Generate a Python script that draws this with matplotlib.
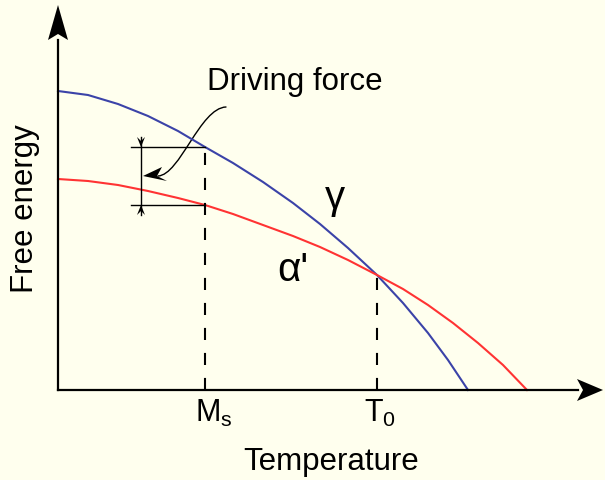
import matplotlib.pyplot as plt
from matplotlib.patches import FancyArrowPatch, Polygon
from matplotlib.path import Path

plt.rcParams['font.family'] = ['Liberation Sans', 'DejaVu Sans']
plt.rcParams['mathtext.fontset'] = 'custom'
plt.rcParams['mathtext.rm'] = 'Liberation Sans'
plt.rcParams['mathtext.it'] = 'Liberation Sans'

# gamma (austenite) free energy curve
gamma_t = [0, 30, 60, 90, 120, 147, 175, 205, 235, 262, 290, 319, 345, 370, 390, 410]
gamma_g = [299, 295, 286, 274, 259, 243, 227, 208, 187, 166, 142, 115, 87, 57, 30, 0]

# alpha' (martensite) free energy curve
alpha_t = [0, 30, 60, 90, 120, 147, 175, 205, 235, 262, 290, 319, 345, 370, 395, 420, 445, 469]
alpha_g = [211, 209, 205, 199, 192, 185, 176, 165, 154, 143, 130, 115, 101, 85, 67, 47, 25, 0]

Ms = 147
T0 = 319
G_ms_gamma = 243
G_ms_alpha = 185
G_t0 = 115

bg = '#FFFFEE'
fig = plt.figure(figsize=(6.05, 4.8), dpi=100, facecolor=bg)
ax = fig.add_axes([0, 0, 1, 1])
ax.set_facecolor(bg)
ax.set_xlim(-58, 547)
ax.set_ylim(-90, 390)
ax.axis('off')

ax.plot(gamma_t, gamma_g, color='#3B43A8', lw=1.5, solid_joinstyle='round')
ax.plot(alpha_t, alpha_g, color='#FF3333', lw=1.5, solid_joinstyle='round')

# axes with arrows
ax.plot([0, 0], [0, 350], color='black', lw=1.6)
ax.plot([0, 520], [0, 0], color='black', lw=1.6)
ax.add_patch(Polygon([[0, 385], [-10, 350], [0, 356], [10, 350]], closed=True,
                     color='black', lw=0))
ax.add_patch(Polygon([[545, 0], [519, 11], [525, 0], [519, -11]], closed=True,
                     color='black', lw=0))

# dashed guides
ax.plot([Ms, Ms], [0, G_ms_gamma], color='black', lw=1.5, dashes=(5.8, 6.2))
ax.plot([T0, T0], [0, G_t0], color='black', lw=1.5, dashes=(5.8, 6.2))

# driving force dimension
ax.plot([73, Ms], [G_ms_gamma, G_ms_gamma], color='black', lw=1)
ax.plot([73, Ms], [G_ms_alpha, G_ms_alpha], color='black', lw=1)
ax.plot([83, 83], [G_ms_alpha - 10, G_ms_gamma + 10], color='black', lw=1)
for tip, sgn in [(G_ms_gamma, 1), (G_ms_alpha, -1)]:
    ax.add_patch(Polygon([[83, tip], [79, tip + 10 * sgn], [83, tip + 6 * sgn], [87, tip + 10 * sgn]],
                         closed=True, color='black', lw=0))

# curved leader from the label
verts = [(168, 283), (142, 282), (122, 215), (100, 214)]
codes = [Path.MOVETO, Path.CURVE4, Path.CURVE4, Path.CURVE4]
ax.add_patch(FancyArrowPatch(path=Path(verts, codes), arrowstyle='-',
                             color='black', lw=1))
ax.add_patch(Polygon([[85, 214], [104, 223], [99, 214], [109, 209]], closed=True,
                     color='black', lw=0))

ax.text(237, 308, 'Driving force', fontsize=22.5, ha='center', va='center')
ax.text(277, 192, 'γ', fontsize=29, ha='center', va='center')
ax.text(235, 120, "α'", fontsize=29, ha='center', va='center')

ax.text(Ms + 9, -32, r'$\mathrm{M_s}$', fontsize=22, ha='center', va='baseline')
ax.text(T0 + 3, -32, r'$\mathrm{T_0}$', fontsize=22, ha='center', va='baseline')
ax.text(273, -80, 'Temperature', fontsize=22.5, ha='center', va='baseline')
ax.text(-33, 181, 'Free energy', fontsize=22.5, ha='center', va='center', rotation=90)

fig.savefig('out.png', dpi=100, facecolor=bg)
